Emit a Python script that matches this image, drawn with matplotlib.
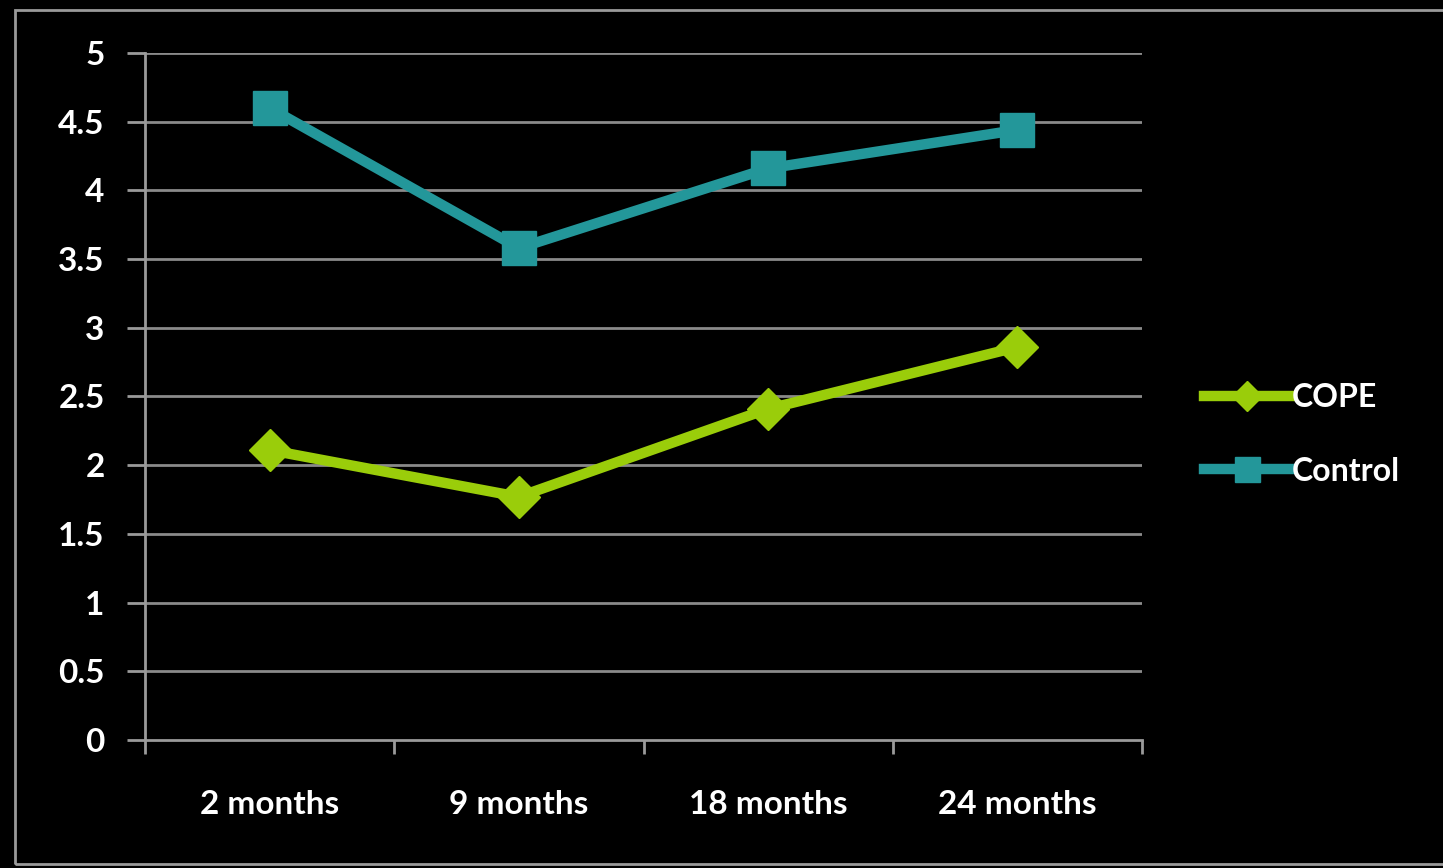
import matplotlib
matplotlib.use("Agg")
from matplotlib import pyplot as plt
from matplotlib.patches import Rectangle

categories = ["2 months", "9 months", "18 months", "24 months"]
cope = [2.11, 1.77, 2.41, 2.86]
control = [4.60, 3.58, 4.16, 4.44]
y_ticks = [0, 0.5, 1, 1.5, 2, 2.5, 3, 3.5, 4, 4.5, 5]
y_labels = ["0", "0.5", "1", "1.5", "2", "2.5", "3", "3.5", "4", "4.5", "5"]

W, H = 1443, 868
fig = plt.figure(figsize=(W / 100, H / 100), dpi=100, facecolor="black")
plt.rcParams["font.family"] = ["Lato", "DejaVu Sans"]

# outer frame
fig.patches.append(Rectangle((15 / W, 1 - 864 / H), (W + 20 - 15) / W, (864 - 10) / H,
                             transform=fig.transFigure, fill=False,
                             edgecolor="#9a9a9a", linewidth=2))

ax = fig.add_axes([145 / W, 1 - 740 / H, (1142 - 145) / W, (740 - 53) / H])
ax.set_facecolor("black")

x = list(range(len(categories)))
ax.plot(x, cope, color="#9acd0a", linewidth=7.5, marker="D", markersize=21,
        label="COPE", zorder=3)
ax.plot(x, control, color="#23979a", linewidth=7.5, marker="s", markersize=24,
        label="Control", zorder=3)

ax.set_xlim(-0.5, len(categories) - 0.5)
ax.set_ylim(0, 5)
ax.set_yticks(y_ticks)
ax.set_yticklabels(y_labels)
ax.set_xticks(x)
ax.set_xticklabels(categories)
ax.set_xticks([i - 0.5 for i in range(len(categories) + 1)], minor=True)

for v in y_ticks[1:]:
    ax.axhline(v, color="#8a8a8a", linewidth=2, zorder=1)

for s in ["top", "right"]:
    ax.spines[s].set_visible(False)
for s in ["left", "bottom"]:
    ax.spines[s].set_color("#9a9a9a")
    ax.spines[s].set_linewidth(2)

ax.tick_params(axis="y", colors="#9a9a9a", labelcolor="white", labelsize=24,
               length=13, width=2, pad=16)
ax.tick_params(axis="x", which="major", length=0, labelcolor="white",
               labelsize=24, pad=36)
ax.tick_params(axis="x", which="minor", colors="#9a9a9a", length=10, width=2)
for lbl in ax.get_xticklabels() + ax.get_yticklabels():
    lbl.set_fontweight("bold")

leg = ax.legend(loc="center left", bbox_to_anchor=(1.033, 0.445), frameon=False,
                fontsize=23, handlelength=2.7, handletextpad=0.05,
                labelspacing=1.4, markerscale=0.75)
for t in leg.get_texts():
    t.set_color("white")
    t.set_fontweight("bold")

plt.savefig("out.png", dpi=100, facecolor="black")
